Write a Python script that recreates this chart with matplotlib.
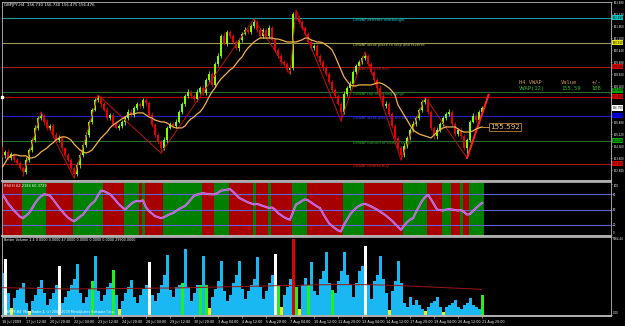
import matplotlib
matplotlib.use("Agg")
import matplotlib.pyplot as plt
from matplotlib.transforms import blended_transform_factory as blend
import numpy as np

# ---------------- data ----------------
title_text = "GBPJPY,H4  156.730 156.730 156.475 156.476"
first_open = 154.26
closes = [153.82, 154.01, 153.63, 153.88, 153.50, 153.31, 153.00, 152.74, 153.50, 154.13,
          154.77, 155.53, 156.16, 156.29, 155.91, 155.53, 155.65, 155.08, 154.77, 154.89,
          154.26, 153.82, 153.50, 153.00, 152.62, 153.19, 153.82, 154.45, 155.08, 155.91,
          156.67, 157.30, 157.43, 157.05, 156.67, 156.16, 156.35, 155.78, 155.53, 155.65,
          155.91, 156.16, 156.54, 156.35, 156.79, 157.05, 156.92, 157.30, 157.11, 156.35,
          155.72, 155.08, 154.64, 154.26, 154.77, 155.53, 155.78, 155.65, 155.91, 156.54,
          157.05, 157.55, 157.81, 157.55, 157.36, 157.81, 158.06, 157.74, 158.57, 158.95,
          158.25, 159.58, 160.09, 161.35, 160.85, 161.60, 161.35, 160.97, 160.59, 161.10,
          161.48, 161.73, 161.60, 161.98, 162.24, 161.73, 161.35, 161.73, 161.35, 161.86,
          161.10, 160.47, 160.09, 159.71, 159.58, 159.20, 159.33, 162.74, 162.49, 162.24,
          161.86, 161.48, 160.97, 160.59, 160.72, 160.09, 159.71, 159.33, 158.95, 158.44,
          157.93, 157.55, 157.05, 156.54, 157.68, 158.06, 158.31, 159.07, 159.45, 159.71,
          159.96, 160.09, 159.58, 159.07, 158.57, 158.06, 157.55, 156.92, 157.05, 156.41,
          155.65, 154.89, 154.26, 153.82, 154.39, 154.89, 155.40, 155.78, 156.16, 156.67,
          157.17, 157.30, 156.54, 155.53, 155.02, 155.40, 155.78, 156.16, 156.41, 156.54,
          155.78, 155.15, 155.40, 155.02, 154.26, 154.77, 155.91, 156.29, 156.03, 156.54,
          156.79]
upper_wick = [0.15, 0.10, 0.20, 0.12, 0.08, 0.14, 0.10, 0.12, 0.18, 0.10,
              0.12, 0.20, 0.15, 0.25, 0.10, 0.18, 0.12, 0.10, 0.16, 0.20,
              0.12, 0.08, 0.14, 0.10, 0.12, 0.20, 0.15, 0.10, 0.22, 0.12,
              0.10, 0.15, 0.19, 0.10, 0.14, 0.20, 0.12, 0.10, 0.18, 0.14,
              0.12, 0.10, 0.16, 0.20, 0.12, 0.15, 0.10, 0.12, 0.14, 0.10,
              0.18, 0.12, 0.10, 0.15, 0.20, 0.12, 0.14, 0.10, 0.18, 0.12,
              0.15, 0.10, 0.20, 0.14, 0.12, 0.18, 0.10, 0.16, 0.12, 0.20,
              0.15, 0.12, 0.18, 0.10, 0.22, 0.12, 0.15, 0.10, 0.14, 0.12,
              0.10, 0.16, 0.12, 0.14, 0.19, 0.12, 0.10, 0.15, 0.12, 0.18,
              0.10, 0.12, 0.14, 0.10, 0.12, 0.15, 0.10, 0.10, 0.25, 0.12,
              0.15, 0.10, 0.12, 0.18, 0.10, 0.14, 0.12, 0.10, 0.16, 0.12,
              0.14, 0.10, 0.12, 0.15, 0.20, 0.12, 0.18, 0.10, 0.14, 0.12,
              0.15, 0.25, 0.10, 0.12, 0.14, 0.10, 0.16, 0.12, 0.20, 0.10,
              0.12, 0.15, 0.10, 0.12, 0.18, 0.14, 0.10, 0.16, 0.12, 0.15,
              0.12, 0.19, 0.10, 0.14, 0.12, 0.18, 0.10, 0.15, 0.12, 0.20,
              0.10, 0.14, 0.12, 0.18, 0.10, 0.15, 0.12, 0.20, 0.10, 0.14,
              0.12]
lower_wick = [0.12, 0.18, 0.10, 0.15, 0.12, 0.10, 0.14, 0.25, 0.12, 0.15,
              0.10, 0.14, 0.12, 0.10, 0.18, 0.12, 0.15, 0.10, 0.14, 0.12,
              0.16, 0.12, 0.10, 0.15, 0.26, 0.12, 0.18, 0.10, 0.14, 0.12,
              0.15, 0.10, 0.12, 0.18, 0.10, 0.14, 0.12, 0.20, 0.10, 0.15,
              0.12, 0.18, 0.10, 0.14, 0.12, 0.10, 0.16, 0.12, 0.10, 0.14,
              0.12, 0.15, 0.10, 0.32, 0.12, 0.18, 0.10, 0.14, 0.12, 0.10,
              0.16, 0.12, 0.10, 0.14, 0.18, 0.10, 0.12, 0.15, 0.10, 0.12,
              0.14, 0.10, 0.16, 0.12, 0.10, 0.15, 0.12, 0.14, 0.10, 0.18,
              0.12, 0.10, 0.15, 0.12, 0.10, 0.14, 0.12, 0.10, 0.16, 0.12,
              0.10, 0.15, 0.12, 0.18, 0.10, 0.12, 0.25, 0.15, 0.10, 0.12,
              0.12, 0.16, 0.10, 0.14, 0.12, 0.10, 0.18, 0.12, 0.15, 0.10,
              0.12, 0.14, 0.10, 0.57, 0.12, 0.15, 0.10, 0.14, 0.12, 0.10,
              0.16, 0.12, 0.10, 0.14, 0.12, 0.18, 0.10, 0.12, 0.15, 0.10,
              0.14, 0.12, 0.10, 0.32, 0.12, 0.15, 0.10, 0.14, 0.12, 0.10,
              0.16, 0.12, 0.10, 0.14, 0.18, 0.22, 0.12, 0.10, 0.15, 0.12,
              0.10, 0.14, 0.12, 0.18, 0.10, 0.63, 0.12, 0.10, 0.14, 0.12,
              0.10]
vwap = [153.00, 153.31, 153.63, 153.76, 153.82, 153.82, 153.76, 153.76, 153.76, 153.63,
        153.63, 153.69, 153.82, 154.01, 154.13, 154.26, 154.45, 154.58, 154.77, 154.89,
        154.96, 154.96, 154.89, 154.77, 154.51, 154.32, 154.13, 154.01, 153.94, 154.01,
        154.13, 154.39, 154.64, 154.89, 155.08, 155.27, 155.53, 155.72, 155.84, 155.97,
        156.10, 156.22, 156.35, 156.41, 156.41, 156.48, 156.48, 156.48, 156.35, 156.22,
        156.16, 156.03, 155.97, 155.91, 155.91, 155.84, 155.72, 155.59, 155.53, 155.53,
        155.53, 155.65, 155.91, 156.10, 156.22, 156.41, 156.54, 156.79, 157.11, 157.49,
        157.81, 158.06, 158.38, 158.63, 158.82, 159.01, 159.20, 159.33, 159.58, 159.83,
        160.02, 160.34, 160.59, 160.78, 160.97, 161.10, 161.22, 161.22, 161.22, 161.22,
        161.22, 161.16, 161.16, 161.10, 161.04, 160.97, 160.97, 160.97, 160.97, 161.04,
        161.10, 161.22, 161.22, 161.10, 161.04, 160.97, 160.97, 160.91, 160.78, 160.65,
        160.47, 160.09, 159.64, 159.20, 158.76, 158.50, 158.25, 158.19, 158.19, 158.25,
        158.25, 158.25, 158.25, 158.25, 158.31, 158.38, 158.38, 158.31, 158.19, 158.06,
        157.87, 157.62, 156.98, 156.67, 156.35, 156.03, 155.72, 155.40, 155.27, 155.15,
        155.08, 155.02, 154.96, 154.89, 155.08, 155.27, 155.40, 155.53, 155.59, 155.59,
        155.59, 155.59, 155.46, 155.34, 155.27, 155.27, 155.27, 155.34, 155.46, 155.53,
        155.59]
vwap_value_label = "155.592"
zigzag_bars = [7, 13, 24, 32, 53, 84, 96, 98, 113, 121, 133, 141, 155]
zigzag_prices = [152.49, 156.54, 152.36, 157.62, 153.94, 162.43, 158.95, 162.99,
                 155.97, 160.34, 153.50, 157.49, 153.63]
trend_bars = [155, 162.2]
trend_prices = [153.63, 157.62]

level_prices = [162.49, 160.91, 159.39, 157.81, 156.29, 154.71, 153.25]
level_colors = ["#1f9a9a", "#9a9a55", "#a01818", "#2a6a2a", "#2020c8", "#2a6a2a", "#a01818"]
level_text_colors = ["#30c8c8", "#c8c860", "#d02020", "#30a030", "#4040ff", "#30a030", "#d02020"]
level_names = ["DVWAP extreme overbought", "DVWAP weak place to stop and reverse",
               "DVWAP reverse Sell", "DVWAP top of trading range",
               "DVWAP weak place on the buy side", "DVWAP bottom of trading range",
               "DVWAP reverse Buy"]
hline_price = 157.49
box_prices = [162.49, 160.91, 159.39, 157.92, 157.49, 156.79, 156.29, 154.71, 153.25]
box_colors = ["#00c8c8", "#e8e800", "#e00000", "#00a000", "#e00000", "#ffffff", "#0000ff", "#00a000", "#e00000"]
price_ticks = [163.48, 162.72, 161.96, 161.20, 160.44, 159.68, 158.92, 158.16, 157.40,
               156.64, 155.88, 155.12, 154.36, 153.60, 152.84]
panel_rows = [("H4 VWAP", "Value", "+/-"), ("VWAP(12)", "155.59", "108")]

rsi_label = "RSI(3) 62.2184 60.3729"
rsi = [80, 72, 62, 55, 48, 42, 36, 33, 38, 43, 52, 62, 70, 76, 80, 79, 77, 70, 62, 54,
       47, 40, 34, 30, 27, 31, 36, 40, 48, 56, 62, 67, 78, 87, 86, 83, 80, 74, 67, 60,
       55, 50, 55, 61, 65, 67, 66, 68, 54, 47, 42, 37, 35, 33, 35, 38, 41, 43, 47, 51,
       54, 57, 63, 70, 77, 79, 81, 82, 81, 80, 80, 80, 83, 87, 88, 89, 90, 85, 79, 73,
       70, 67, 64, 62, 60, 61, 59, 57, 55, 53, 54, 50, 43, 39, 35, 32, 30, 45, 60, 63,
       67, 70, 68, 64, 60, 56, 53, 42, 32, 23, 18, 13, 9, 7, 20, 30, 40, 47, 53, 57,
       60, 61, 59, 56, 53, 50, 46, 42, 38, 33, 28, 22, 16, 10, 18, 25, 30, 33, 45, 56,
       67, 74, 79, 70, 60, 50, 49, 48, 50, 51, 50, 49, 48, 49, 45, 40, 41, 47, 53, 58,
       63]
rsi_band_runs = [("r", 7), ("g", 8), ("r", 9), ("g", 10), ("r", 7), ("g", 5), ("r", 1),
                 ("g", 1), ("r", 6), ("g", 13), ("r", 4), ("g", 5), ("r", 8), ("g", 1),
                 ("r", 4), ("g", 1), ("r", 7), ("g", 5), ("r", 12), ("g", 7), ("r", 13),
                 ("g", 8), ("r", 5), ("g", 3), ("r", 3), ("g", 1), ("r", 2), ("g", 5)]
rsi_levels = [80, 50, 20]
rsi_ticks = [100, 80, 50, 20, 0]

vol_label = "Better Volume 1.4 0.0000 0.0000 47.0000 0.0000 0.0000 0.0000 29900.0000"
volume = [3150, 4125, 1650, 525, 1275, 1875, 2025, 2400, 900, 300,
          1050, 1500, 2100, 2625, 1650, 750, 1200, 1650, 2250, 3600,
          900, 1350, 1800, 2250, 2700, 3750, 1650, 900, 1350, 1950,
          2550, 4350, 1800, 1050, 1500, 2100, 2400, 3375, 1500, 450,
          1050, 1650, 2100, 2625, 1350, 900, 1500, 1950, 2250, 3900,
          1500, 1050, 1650, 2250, 3000, 4425, 1875, 1350, 2100, 2250,
          2400, 4875, 2100, 1050, 1650, 2250, 2250, 4350, 2250, 525,
          1350, 1950, 2550, 3975, 1800, 1050, 1500, 2400, 3000, 3975,
          1950, 1200, 1800, 2250, 2700, 4275, 2100, 1200, 1800, 2400,
          3000, 4500, 2250, 600, 1500, 2100, 2700, 5625, 2100, 450,
          2250, 2775, 2250, 3900, 1800, 1500, 2700, 3300, 4650, 2400,
          1875, 1650, 2550, 3300, 4650, 3000, 2250, 1350, 2400, 3300,
          3600, 5100, 2250, 1200, 2550, 3000, 4350, 2700, 1650, 375,
          1800, 2550, 3975, 2400, 900, 600, 1350, 750, 1125, 750,
          450, 300, 600, 900, 1050, 1350, 600, 225, 600, 750,
          900, 1125, 600, 450, 750, 900, 1275, 750, 600, 450,
          1500]
vol_flags = {1: "W", 3: "Y", 9: "Y", 19: "W", 30: "G", 37: "G", 39: "Y", 49: "W",
             60: "G", 66: "G", 68: "G", 69: "Y", 91: "W", 92: "G", 93: "Y", 97: "R",
             98: "G", 99: "Y", 102: "G", 110: "G", 121: "W", 129: "Y", 141: "Y",
             147: "Y", 160: "G"}
vol_ma = [2040, 2035, 2030, 2030, 2025, 2020, 2020, 2015, 2010, 2005,
          2000, 1995, 1990, 1985, 1980, 1975, 1970, 1965, 1960, 1960,
          1955, 1950, 1950, 1950, 1945, 1945, 1945, 1950, 1950, 1950,
          1955, 1955, 1960, 1960, 1965, 1965, 1970, 1970, 1975, 1975,
          1980, 1980, 1985, 1985, 1990, 1990, 1995, 1995, 2000, 2000,
          2005, 2005, 2010, 2010, 2015, 2015, 2020, 2020, 2025, 2025,
          2030, 2035, 2040, 2045, 2050, 2055, 2060, 2065, 2070, 2075,
          2080, 2085, 2090, 2095, 2100, 2105, 2110, 2115, 2120, 2125,
          2130, 2135, 2140, 2145, 2150, 2155, 2160, 2165, 2170, 2175,
          2180, 2185, 2190, 2195, 2200, 2205, 2210, 2215, 2220, 2225,
          2230, 2235, 2240, 2245, 2250, 2250, 2255, 2255, 2260, 2260,
          2265, 2265, 2265, 2270, 2270, 2270, 2270, 2270, 2270, 2265,
          2265, 2260, 2260, 2255, 2250, 2245, 2240, 2235, 2230, 2225,
          2220, 2210, 2200, 2190, 2180, 2170, 2160, 2150, 2140, 2130,
          2120, 2110, 2100, 2090, 2080, 2070, 2060, 2050, 2040, 2030,
          2020, 2010, 2000, 1990, 1980, 1970, 1960, 1950, 1940, 1930,
          1920]
vol_top = 5764.44
vol_ticks = [5764.44, 0.0]
footer_text = "GBPJPY,H4  MetaTrader 4, (c) 2001-2009 MetaQuotes Software Corp."
time_labels = ["16 Jul 2009", "17 Jul 12:00", "20 Jul 20:00", "22 Jul 04:00", "23 Jul 12:00",
               "24 Jul 20:00", "28 Jul 04:00", "29 Jul 12:00", "30 Jul 20:00", "3 Aug 04:00",
               "4 Aug 12:00", "5 Aug 20:00", "7 Aug 04:00", "10 Aug 12:00", "11 Aug 20:00",
               "13 Aug 04:00", "14 Aug 12:00", "17 Aug 20:00", "19 Aug 04:00", "20 Aug 12:00",
               "21 Aug 20:00"]
bars_per_label = 8

# ---------------- figure ----------------
W, H = 625, 326
fig = plt.figure(figsize=(W / 100, H / 100), dpi=100, facecolor="black")


def px_axes(x0, y0, x1, y1):
    return fig.add_axes([x0 / W, 1 - y1 / H, (x1 - x0) / W, (y1 - y0) / H])


ax = px_axes(2, 2, 611, 181)
ax_rsi = px_axes(2, 182, 611, 236)
ax_vol = px_axes(2, 237, 611, 316)

n = len(closes)
xs = np.arange(n)
XMIN, XMAX = 0, 203
AXIS_FS = 1.9
for a in (ax, ax_rsi, ax_vol):
    a.set_facecolor("black")
    a.set_xlim(XMIN, XMAX)
    for s in a.spines.values():
        s.set_color("#a0a0a0")
        s.set_linewidth(0.7)
    a.spines["bottom"].set_linewidth(1.3)
    a.spines["bottom"].set_color("#c0c0c0")
    a.yaxis.tick_right()
    a.tick_params(axis="y", colors="white", labelsize=AXIS_FS, length=1.0, width=0.4, pad=0.6)
    a.tick_params(axis="x", bottom=False, labelbottom=False)

# ---- main price panel ----
c = np.array(closes)
o = np.r_[first_open, c[:-1]]
hi = np.maximum(o, c) + np.array(upper_wick)
lo = np.minimum(o, c) - np.array(lower_wick)
bull, bear = "#7cfc00", "#e80000"
cols = np.where(c >= o, bull, bear)

ax.set_ylim(152.17, 163.50)
for p, lc, tc, nm in zip(level_prices, level_colors, level_text_colors, level_names):
    ax.axhline(p, color=lc, lw=0.8, zorder=1)
    ax.text(117, p - 0.03, nm, color=tc, fontsize=2.6, va="top", ha="left", zorder=2)
ax.axhline(hline_price, color="#c00000", lw=0.8, zorder=1)
ax.plot([0], [hline_price], "s", color="white", ms=1.6, zorder=6,
        transform=blend(ax.transAxes, ax.transData), clip_on=False)

ax.vlines(xs, lo, hi, colors=cols, lw=0.6, zorder=3)
ax.bar(xs, np.maximum(np.abs(c - o), 0.03), bottom=np.minimum(o, c), width=0.62,
       color=cols, linewidth=0, zorder=3)

ax.plot(zigzag_bars, zigzag_prices, color="#c01010", lw=0.7, zorder=4)
ax.plot(trend_bars, trend_prices, color="#ff2020", lw=1.5, zorder=5)
ax.plot(xs, vwap, color="#f2b14e", lw=0.9, zorder=5)

# VWAP value callout
ax.plot([xs[-1], xs[-1] + 2.5], [vwap[-1], vwap[-1]], color="#e0a040", lw=0.6, zorder=5)
ax.text(xs[-1] + 2.8, vwap[-1], vwap_value_label, color="#f5c27a", fontsize=5.2,
        va="center", ha="left", zorder=6,
        bbox=dict(boxstyle="square,pad=0.15", fc="black", ec="#c08030", lw=0.6))

# VWAP info table
row_colors = ["#c89858", "#2fb52f"]
for r, (row, rc) in enumerate(zip(panel_rows, row_colors)):
    y = 0.552 - r * 0.036
    for k, cell in enumerate(row):
        ax.text([0.849, 0.918, 0.968][k], y, cell, transform=ax.transAxes, color=rc,
                fontsize=4.0, family="DejaVu Sans Mono", va="center", ha="left")

ax.text(0.004, 0.993, title_text, transform=ax.transAxes, color="white", fontsize=2.8,
        va="top", ha="left")

# price scale labels; the ones hidden behind a coloured level box are left out
shown_ticks = [t for t in price_ticks if min(abs(t - b) for b in box_prices) > 0.2]
ax.set_yticks(shown_ticks)
ax.set_yticklabels([f"{t:.3f}" for t in shown_ticks])

tr = blend(ax.transAxes, ax.transData)
for p, bc in zip(box_prices, box_colors):
    ax.text(1.002, p, f"{p:.3f}", transform=tr, color="black", fontsize=AXIS_FS,
            va="center", ha="left", zorder=10, clip_on=False,
            bbox=dict(boxstyle="square,pad=0.2", fc=bc, ec=bc, lw=0))

# ---- RSI panel ----
ax_rsi.set_ylim(-2, 104)
start = 0
for code, length in rsi_band_runs:
    ax_rsi.axvspan(start - 0.5, start + length - 0.5, color="#a80000" if code == "r" else "#008000",
                   lw=0, zorder=0)
    start += length
for lv in rsi_levels:
    ax_rsi.axhline(lv, color="#6262d8", lw=0.8, zorder=1)
ax_rsi.plot(xs, rsi, color="#a8a8ff", lw=1.5, zorder=2)
ax_rsi.plot(xs, rsi, color="#e040d8", lw=0.8, zorder=3)
ax_rsi.text(0.003, 0.97, rsi_label, transform=ax_rsi.transAxes, color="white", fontsize=2.6,
            va="top", ha="left", zorder=4)
ax_rsi.set_yticks(rsi_ticks)
ax_rsi.set_yticklabels([str(t) for t in rsi_ticks])
for lbl in ax_rsi.get_yticklabels():
    if lbl.get_text() == "0":
        lbl.set_va("bottom")
    elif lbl.get_text() == "100":
        lbl.set_va("top")

# ---- Volume panel ----
flag_colors = {"W": "#ffffff", "Y": "#f0f020", "G": "#20f020", "R": "#e00000"}
vcols = [flag_colors.get(vol_flags.get(i, ""), "#19b8f2") for i in range(n)]
ax_vol.set_ylim(-40, vol_top)
ax_vol.bar(xs, volume, width=1.0, color=vcols, linewidth=0, zorder=2)
ax_vol.plot(xs, vol_ma, color="#a01515", lw=0.7, zorder=3)
ax_vol.text(0.003, 0.985, vol_label, transform=ax_vol.transAxes, color="white", fontsize=2.4,
            va="top", ha="left")
ax_vol.text(0.003, 0.02, footer_text, transform=ax_vol.transAxes, color="white", fontsize=2.3,
            va="bottom", ha="left", zorder=4)
ax_vol.set_yticks(vol_ticks)
ax_vol.set_yticklabels([f"{t:.2f}" for t in vol_ticks])
for lbl in ax_vol.get_yticklabels():
    if lbl.get_text() != "0.00":
        lbl.set_va("top")
    else:
        lbl.set_va("bottom")

tick_pos = [k * bars_per_label for k in range(len(time_labels))]
ax_vol.set_xticks(tick_pos)
ax_vol.set_xticklabels(time_labels)
ax_vol.tick_params(axis="x", bottom=True, labelbottom=True, colors="white", labelsize=2.4,
                   length=1.5, width=0.4, pad=1.2)
for lbl in ax_vol.get_xticklabels():
    lbl.set_ha("left")

fig.savefig("out.png", dpi=100, facecolor="black")
